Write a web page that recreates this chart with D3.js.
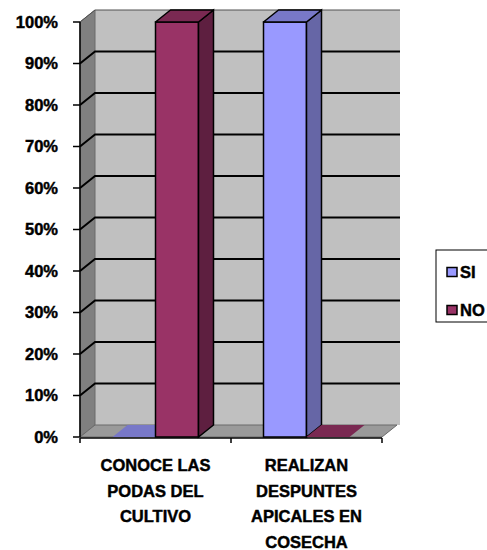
<!DOCTYPE html>
<html>
<head>
<meta charset="utf-8">
<script src="https://cdn.jsdelivr.net/npm/d3@7"></script>
<style>
  html, body { margin: 0; padding: 0; background: #fff; }
  svg { display: block; }
  text { font-family: "Liberation Sans", Arial, sans-serif; font-weight: bold; fill: #000;
         stroke: #000; stroke-width: 0.45px; }
</style>
</head>
<body>
<svg id="chart" width="487" height="550"></svg>
<script>
// Survey answers per question (share of respondents)
const categories = [
  ["CONOCE LAS", "PODAS DEL", "CULTIVO"],
  ["REALIZAN", "DESPUNTES", "APICALES EN", "COSECHA"]
];
const seriesNames = ["SI", "NO"];
const valuesSI = [0, 1];
const valuesNO = [1, 0];
const yTicks = [0, 0.1, 0.2, 0.3, 0.4, 0.5, 0.6, 0.7, 0.8, 0.9, 1.0];

const seriesColors = {
  SI: { front: "#9999FF", side: "#6666A6", top: "#7878C8" },
  NO: { front: "#993366", side: "#5E1F40", top: "#7A2952" }
};

const svg = d3.select("#chart");

// plot box (front plane) and 3D depth offset
const pLeft = 80, pRight = 382, pTop = 22, pBottom = 437;
const dx = 15, dy = 12;
const fontSize = 16.5;

const catIds = categories.map((c, i) => i);
const x0 = d3.scaleBand().domain(catIds).range([pLeft, pRight]).padding(0);
const x1 = d3.scaleBand().domain(seriesNames).range([0, x0.bandwidth()])
  .paddingInner(0).paddingOuter(0.756);
const y = d3.scaleLinear().domain([0, 1]).range([pBottom, pTop]);

const pts = a => a.map(p => p.join(",")).join(" ");

// back wall
svg.append("polygon")
  .attr("points", pts([[pLeft + dx, pTop - dy], [pRight + dx + 3, pTop - dy], [pRight + dx + 3, pBottom - dy], [pLeft + dx, pBottom - dy]]))
  .attr("fill", "#C0C0C0");

// left side wall
svg.append("polygon")
  .attr("points", pts([[pLeft, pBottom], [pLeft, pTop], [pLeft + dx, pTop - dy], [pLeft + dx, pBottom - dy]]))
  .attr("fill", "#808080").attr("stroke", "#6a6a6a").attr("stroke-width", 1);

// floor
svg.append("polygon")
  .attr("points", pts([[pLeft, pBottom], [pRight, pBottom], [pRight + dx, pBottom - dy], [pLeft + dx, pBottom - dy]]))
  .attr("fill", "#9A9A9A").attr("stroke", "#6a6a6a").attr("stroke-width", 1);

// gridlines running across side wall and back wall
yTicks.filter(v => v > 0).forEach(v => {
  const yy = y(v);
  svg.append("polyline")
    .attr("points", pts([[pLeft, yy], [pLeft + dx, yy - dy], [pRight + dx + 3, yy - dy]]))
    .attr("fill", "none")
    .attr("stroke", v === 1 ? "#505050" : "#000")
    .attr("stroke-width", v === 1 ? 1 : 2);
});

// bars
const data = [];
catIds.forEach(i => {
  data.push({ cat: i, s: "SI", v: valuesSI[i] });
  data.push({ cat: i, s: "NO", v: valuesNO[i] });
});

data.forEach(d => {
  const xa = x0(d.cat) + x1(d.s);
  const xb = xa + x1.bandwidth();
  const yt = y(d.v);
  const c = seriesColors[d.s];
  const g = svg.append("g");
  const stroke = d.v > 0 ? "#000" : "none";
  if (d.v > 0) {
    g.append("polygon")
      .attr("points", pts([[xa, pBottom], [xa, yt], [xb, yt], [xb, pBottom]]))
      .attr("fill", c.front).attr("stroke", stroke).attr("stroke-width", 1.5);
    g.append("polygon")
      .attr("points", pts([[xb, pBottom], [xb, yt], [xb + dx, yt - dy], [xb + dx, pBottom - dy]]))
      .attr("fill", c.side).attr("stroke", stroke).attr("stroke-width", 1.5);
  }
  g.append("polygon")
    .attr("points", pts([[xa, yt], [xa + dx, yt - dy], [xb + dx, yt - dy], [xb, yt]]))
    .attr("fill", c.top).attr("stroke", stroke).attr("stroke-width", 1.5)
    .attr("stroke-linejoin", "round");
});

// value axis
const yAxis = svg.append("g");
yAxis.append("line")
  .attr("x1", pLeft).attr("x2", pLeft).attr("y1", pTop).attr("y2", pBottom)
  .attr("stroke", "#000").attr("stroke-width", 1.5);
yTicks.forEach(v => {
  yAxis.append("line")
    .attr("x1", pLeft - 7).attr("x2", pLeft).attr("y1", y(v)).attr("y2", y(v))
    .attr("stroke", "#000").attr("stroke-width", 1.5);
  yAxis.append("text")
    .attr("x", pLeft - 22).attr("y", y(v)).attr("dy", "0.36em")
    .attr("text-anchor", "end").attr("font-size", fontSize)
    .text(d3.format(".0%")(v));
});

// category axis
const xAxis = svg.append("g");
xAxis.append("line")
  .attr("x1", pLeft).attr("x2", pRight).attr("y1", pBottom + 1).attr("y2", pBottom + 1)
  .attr("stroke", "#000").attr("stroke-width", 1.5);
[pLeft, ...catIds.map(i => x0(i) + x0.bandwidth())].forEach(xx => {
  xAxis.append("line")
    .attr("x1", xx).attr("x2", xx).attr("y1", pBottom + 1).attr("y2", pBottom + 6)
    .attr("stroke", "#000").attr("stroke-width", 1.5);
});
catIds.forEach(i => {
  const cx = x0(i) + x0.bandwidth() / 2;
  const t = xAxis.append("text")
    .attr("text-anchor", "middle").attr("font-size", fontSize)
    .attr("x", cx).attr("y", 471);
  categories[i].forEach((line, k) => {
    t.append("tspan").attr("x", cx).attr("dy", k === 0 ? 0 : 25.5).text(line);
  });
});

// legend
const lg = svg.append("g");
lg.append("rect")
  .attr("x", 436).attr("y", 250).attr("width", 80).attr("height", 72)
  .attr("fill", "#fff").attr("stroke", "#000").attr("stroke-width", 1);
seriesNames.forEach((s, k) => {
  const yy = 272 + k * 38;
  lg.append("rect")
    .attr("x", 447).attr("y", yy - 4.5).attr("width", 10).attr("height", 9)
    .attr("fill", seriesColors[s].front).attr("stroke", "#000").attr("stroke-width", 1.5);
  lg.append("text")
    .attr("x", 460).attr("y", yy).attr("dy", "0.36em")
    .attr("font-size", fontSize).text(s);
});
</script>
</body>
</html>
